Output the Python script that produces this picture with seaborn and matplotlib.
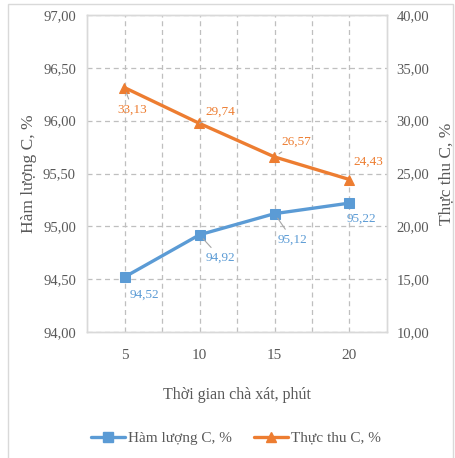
import matplotlib
matplotlib.use("Agg")
import matplotlib.pyplot as plt
import seaborn as sns
import pandas as pd
from matplotlib.patches import Rectangle
from matplotlib.lines import Line2D

categories = ["5", "10", "15", "20"]
ham_luong = [94.52, 94.92, 95.12, 95.22]
thuc_thu = [33.13, 29.74, 26.57, 24.43]
left_ticks = [94.0, 94.5, 95.0, 95.5, 96.0, 96.5, 97.0]
right_ticks = [10, 15, 20, 25, 30, 35, 40]

sns.set_style("white")
plt.rcParams['font.family'] = ['Liberation Serif', 'DejaVu Serif']

BLUE = "#5B9BD5"
ORANGE = "#ED7D31"
GRAY = "#595959"
GRID = "#BFBFBF"
LEAD = "#A6A6A6"

df = pd.DataFrame({"t": categories, "hl": ham_luong, "tt": thuc_thu})

fig = plt.figure(figsize=(4.56, 4.58), dpi=100)
ax = fig.add_axes([87/456, 1-332/458, 300/456, 317/458])
ax2 = ax.twinx()

sns.lineplot(data=df, x="t", y="hl", ax=ax, color=BLUE, marker="s", markersize=7,
             markeredgecolor=BLUE, linewidth=2.4, sort=False)
sns.lineplot(data=df, x="t", y="tt", ax=ax2, color=ORANGE, marker="^", markersize=7,
             markeredgecolor=ORANGE, linewidth=2.4, sort=False)

ax.set_xlim(-0.5, 3.5)
ax.set_ylim(94, 97)
ax2.set_ylim(10, 40)
ax.set_yticks(left_ticks)
ax.set_yticklabels([f"{v:.2f}".replace(".", ",") for v in left_ticks])
ax2.set_yticks(right_ticks)
ax2.set_yticklabels([f"{v:.2f}".replace(".", ",") for v in right_ticks])

ax.set_xticks(range(len(categories)))
ax.set_xticklabels(categories)
ax.set_xticks([0.5, 1.5, 2.5], minor=True)

ax.grid(True, which="major", axis="both", color=GRID, linestyle=(0, (4, 3)), linewidth=0.9)
ax.grid(True, which="minor", axis="x", color=GRID, linestyle=(0, (4, 3)), linewidth=0.9)
ax.set_axisbelow(True)

for a in (ax, ax2):
    for s in a.spines.values():
        s.set_color("#D9D9D9")
        s.set_linewidth(1.0)
    a.tick_params(length=0, labelsize=10.5, colors=GRAY)
ax.tick_params(axis="y", pad=8)
ax2.tick_params(axis="y", pad=7)
ax.tick_params(axis="x", pad=12, labelsize=11)
ax.tick_params(which="minor", length=0)

ax.set_xlabel("Thời gian chà xát, phút", fontsize=11.5, color=GRAY, labelpad=18)
ax.set_ylabel("Hàm lượng C, %", fontsize=12.5, color=GRAY, labelpad=4)
ax2.set_ylabel("Thực thu C, %", fontsize=12.5, color=GRAY, labelpad=6)

blue_off = [(20, -18), (21, -23), (18, -26), (12, -16)]
orange_off = [(8, -22), (21, 12), (22, 15), (19, 18)]
blue_lead = [False, True, True, False]
orange_lead = [True, True, True, False]

def put(a, i, v, off, color, lead):
    kw = {}
    if lead:
        kw["arrowprops"] = dict(arrowstyle="-", color=LEAD, lw=0.8, shrinkA=1, shrinkB=4)
    a.annotate(f"{v:.2f}".replace(".", ","), (i, v), xytext=off, textcoords="offset pixels",
               ha="center", va="center", color=color, fontsize=9.5, **kw)

for i, v in enumerate(ham_luong):
    put(ax, i, v, blue_off[i], BLUE, blue_lead[i])
for i, v in enumerate(thuc_thu):
    put(ax2, i, v, orange_off[i], ORANGE, orange_lead[i])

handles = [Line2D([], [], color=BLUE, marker="s", markersize=7, linewidth=2.4),
           Line2D([], [], color=ORANGE, marker="^", markersize=7, linewidth=2.4)]
fig.legend(handles, ["Hàm lượng C, %", "Thực thu C, %"], loc="center",
           bbox_to_anchor=(236/456, 1-438/458), ncol=2, frameon=False,
           fontsize=11, labelcolor=GRAY, handlelength=2.2, handletextpad=0.2,
           columnspacing=1.5)

fig.patches.append(Rectangle((8/456, -0.01), 445/456, 1.01-4/458, transform=fig.transFigure,
                             fill=False, edgecolor="#D9D9D9", linewidth=1.0))

fig.savefig("out.png", dpi=100)
